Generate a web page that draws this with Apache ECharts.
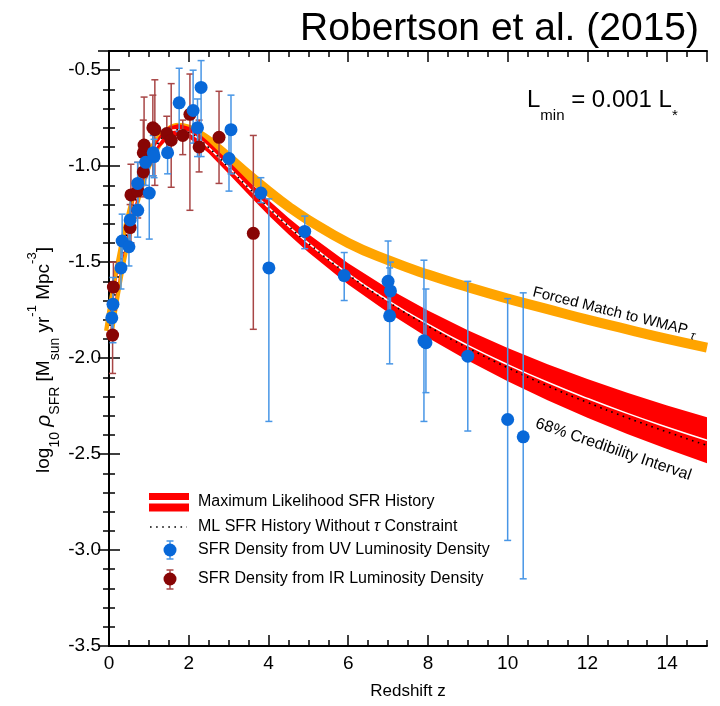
<!DOCTYPE html>
<html>
<head>
<meta charset="utf-8">
<title>Robertson et al. (2015)</title>
<script src="https://cdn.jsdelivr.net/npm/echarts@6/dist/echarts.min.js"></script>
<style>
  html, body { margin: 0; padding: 0; background: #fff; }
  #chart { width: 720px; height: 706px; }
</style>
</head>
<body>
<div id="chart"></div>
<script>
// redshift grid the model curves were read at
const modelZ = [0, 0.25, 0.5, 0.75, 1, 1.25, 1.5, 1.75, 2, 2.25, 2.5, 3, 3.5, 4, 4.5, 5, 6, 7, 8, 9, 10, 11, 12, 13, 14, 15];

// 68% credibility band (upper / lower edge) and the max likelihood line
const bandUpper = [-1.833, -1.522, -1.276, -1.084, -0.940, -0.845, -0.794, -0.780, -0.795, -0.828, -0.873, -0.973, -1.077, -1.176, -1.269, -1.354, -1.506, -1.637, -1.752, -1.855, -1.947, -2.032, -2.109, -2.181, -2.247, -2.308];
const bandLower = [-1.893, -1.582, -1.336, -1.144, -1.000, -0.905, -0.854, -0.840, -0.855, -0.888, -0.933, -1.039, -1.149, -1.256, -1.355, -1.448, -1.616, -1.763, -1.894, -2.013, -2.121, -2.220, -2.311, -2.395, -2.473, -2.548];
const mlCurve = [-1.863, -1.552, -1.306, -1.114, -0.970, -0.875, -0.824, -0.810, -0.825, -0.858, -0.903, -1.006, -1.113, -1.216, -1.312, -1.401, -1.561, -1.700, -1.823, -1.934, -2.034, -2.126, -2.210, -2.288, -2.360, -2.428];
// ML history without the tau constraint (dotted)
const noTauCurve = [-1.863, -1.552, -1.306, -1.114, -0.970, -0.875, -0.824, -0.810, -0.825, -0.858, -0.903, -1.006, -1.113, -1.216, -1.312, -1.402, -1.565, -1.707, -1.833, -1.947, -2.050, -2.145, -2.231, -2.311, -2.385, -2.455];
// forced match to WMAP tau (orange)
const wmapCurve = [-1.860, -1.550, -1.300, -1.110, -0.965, -0.870, -0.820, -0.800, -0.810, -0.835, -0.870, -0.955, -1.045, -1.130, -1.210, -1.280, -1.400, -1.490, -1.565, -1.630, -1.690, -1.745, -1.800, -1.850, -1.900, -1.945];

// SFR density from UV luminosity density
const uvZ   = [0.07, 0.10, 0.30, 0.33, 0.50, 0.53, 0.72, 0.72, 0.92, 1.01, 1.11, 1.13, 1.47, 1.76, 2.11, 2.22, 2.31, 3.01, 3.06, 3.81, 4.01, 4.91, 5.90, 7.00, 7.04, 7.06, 7.90, 7.95, 9.00, 10.00, 10.39];
const uvRho = [-1.79, -1.72, -1.53, -1.39, -1.42, -1.28, -1.23, -1.09, -0.98, -1.14, -0.93, -0.95, -0.93, -0.67, -0.71, -0.80, -0.59, -0.96, -0.81, -1.14, -1.53, -1.34, -1.57, -1.60, -1.78, -1.65, -1.91, -1.92, -1.99, -2.32, -2.41];
const uvLo  = [-1.86, -1.92, -1.64, -1.53, -1.52, -1.42, -1.37, -1.20, -1.10, -1.38, -1.05, -1.06, -1.04, -0.82, -0.88, -0.95, -0.95, -1.13, -1.04, -1.19, -2.33, -1.43, -1.70, -1.80, -2.03, -1.80, -2.33, -2.18, -2.38, -2.95, -3.15];
const uvHi  = [-1.70, -1.58, -1.40, -1.25, -1.30, -1.15, -1.10, -0.98, -0.87, -0.95, -0.84, -0.86, -0.83, -0.49, -0.50, -0.65, -0.45, -0.80, -0.63, -1.06, -1.17, -1.26, -1.45, -1.39, -1.53, -1.50, -1.49, -1.64, -1.60, -1.69, -1.66];

// SFR density from IR luminosity density
const irZ   = [0.09, 0.11, 0.53, 0.55, 0.72, 0.86, 0.86, 0.88, 1.10, 1.15, 1.45, 1.56, 1.85, 2.03, 2.26, 2.76, 3.62];
const irRho = [-1.88, -1.63, -1.32, -1.15, -1.13, -1.03, -0.93, -0.89, -0.80, -0.81, -0.83, -0.865, -0.84, -0.73, -0.90, -0.85, -1.35];
const irLo  = [-2.08, -1.75, -1.42, -1.40, -1.27, -1.16, -1.10, -1.06, -1.05, -1.10, -0.93, -1.11, -0.94, -1.23, -1.03, -1.09, -1.85];
const irHi  = [-1.70, -1.50, -1.20, -0.99, -0.98, -0.90, -0.76, -0.64, -0.63, -0.55, -0.74, -0.57, -0.76, -0.52, -0.76, -0.61, -0.84];

const FONT = '"Liberation Sans", Arial, Helvetica, sans-serif';
const BLUE = '#0868d8';
const BLUE_BAR = '#4896e6';
const DARKRED = '#880505';
const DARKRED_BAR = '#a84646';

const pairs = (xs, ys) => xs.map((x, i) => [x, ys[i]]);
const bars = (xs, ys, lo, hi) => xs.map((x, i) => [x, ys[i], lo[i], hi[i]]);

// error bar with small caps
function errorBar(color) {
  return function (params, api) {
    const x = api.value(0);
    const top = api.coord([x, api.value(3)]);
    const bot = api.coord([x, api.value(2)]);
    const cap = 3.5;
    const style = { stroke: color, lineWidth: 1.5 };
    return {
      type: 'group',
      children: [
        { type: 'line', shape: { x1: top[0], y1: top[1], x2: bot[0], y2: bot[1] }, style: style },
        { type: 'line', shape: { x1: top[0] - cap, y1: top[1], x2: top[0] + cap, y2: top[1] }, style: style },
        { type: 'line', shape: { x1: bot[0] - cap, y1: bot[1], x2: bot[0] + cap, y2: bot[1] }, style: style }
      ]
    };
  };
}

// credibility band as one polygon: upper edge forward, lower edge back
function bandPolygon(params, api) {
  if (params.dataIndex !== 0) return null;
  const pts = [];
  for (let i = 0; i < modelZ.length; i++) pts.push(api.coord([modelZ[i], bandUpper[i]]));
  for (let i = modelZ.length - 1; i >= 0; i--) pts.push(api.coord([modelZ[i], bandLower[i]]));
  return { type: 'polygon', shape: { points: pts }, style: { fill: '#ff0000' } };
}

const frameLine = { show: true, lineStyle: { color: '#000', width: 2 } };
const majorTick = { show: true, inside: true, length: 11, lineStyle: { color: '#000', width: 1.5 } };
const minorTickAx = { show: true, inside: true, length: 6, lineStyle: { color: '#000', width: 1.5 } };

function xAx(position, interval, tick, withLabels) {
  return {
    type: 'value', min: 0, max: 15, interval: interval, position: position,
    axisLine: withLabels !== null ? frameLine : { show: false },
    axisTick: tick,
    axisLabel: withLabels ? { show: true, fontSize: 19, color: '#000', fontFamily: FONT, margin: 8, showMaxLabel: false } : { show: false },
    splitLine: { show: false }
  };
}
function yAx(position, interval, tick, withLabels) {
  return {
    type: 'value', min: -3.5, max: -0.4, interval: interval, position: position,
    axisLine: withLabels !== null ? frameLine : { show: false },
    axisTick: tick,
    axisLabel: withLabels ? {
      show: true, fontSize: 19, color: '#000', fontFamily: FONT, margin: 8, showMaxLabel: false,
      formatter: v => v.toFixed(1)
    } : { show: false },
    splitLine: { show: false }
  };
}

const chart = echarts.init(document.getElementById('chart'), null, { renderer: 'canvas' });

const xBottom = xAx('bottom', 2, majorTick, true);
xBottom.name = 'Redshift z';
xBottom.nameLocation = 'middle';
xBottom.nameGap = 37;
xBottom.nameTextStyle = { fontSize: 17, color: '#000', fontFamily: FONT };

const option = {
  backgroundColor: '#fff',
  animation: false,
  title: {
    text: 'Robertson et al. (2015)',
    right: 16, top: 5,
    textStyle: { fontSize: 39, fontWeight: 'normal', color: '#000', fontFamily: FONT }
  },
  grid: { left: 109, right: 13, top: 51, bottom: 60, containLabel: false },
  xAxis: [
    xBottom,
    xAx('bottom', 0.5, minorTickAx, null),
    xAx('top', 2, majorTick, false),
    xAx('top', 0.5, minorTickAx, null)
  ],
  yAxis: [
    yAx('left', 0.5, majorTick, true),
    yAx('left', 0.1, minorTickAx, null),
    yAx('right', 0.5, majorTick, false),
    yAx('right', 0.1, minorTickAx, null)
  ],
  series: [
    {
      name: 'WMAP', type: 'line', smooth: true, symbol: 'none', z: 1,
      data: pairs(modelZ, wmapCurve),
      lineStyle: { color: '#ffa400', width: 10 }
    },
    {
      name: 'band', type: 'custom', z: 2, clip: true,
      renderItem: bandPolygon,
      encode: { x: 0, y: 1 },
      data: pairs(modelZ, mlCurve)
    },
    {
      name: 'ML', type: 'line', smooth: true, symbol: 'none', z: 3,
      data: pairs(modelZ, mlCurve),
      lineStyle: { color: '#fff', width: 1.5 }
    },
    {
      name: 'noTau', type: 'line', smooth: true, symbol: 'none', z: 3,
      data: pairs(modelZ, noTauCurve),
      lineStyle: { color: '#000', width: 1.6, type: [1.6, 4.5] }
    },
    {
      name: 'irBars', type: 'custom', z: 4,
      renderItem: errorBar(DARKRED_BAR),
      encode: { x: 0, y: 1 },
      data: bars(irZ, irRho, irLo, irHi)
    },
    {
      name: 'uvBars', type: 'custom', z: 4,
      renderItem: errorBar(BLUE_BAR),
      encode: { x: 0, y: 1 },
      data: bars(uvZ, uvRho, uvLo, uvHi)
    },
    {
      name: 'IR', type: 'scatter', z: 5, symbolSize: 13,
      itemStyle: { color: DARKRED, opacity: 1 },
      data: pairs(irZ, irRho)
    },
    {
      name: 'UV', type: 'scatter', z: 5, symbolSize: 13,
      itemStyle: { color: BLUE, opacity: 1 },
      data: pairs(uvZ, uvRho)
    }
  ],
  graphic: [
    // y axis title
    {
      type: 'text', x: 44, y: 360, rotation: Math.PI / 2, z: 10,
      style: {
        text: '{n|log}{s|10}{n| }{g|ρ}{s|SFR}{n| [M}{s|sun}{n| yr}{p|-1}{n| Mpc}{p|-3}{n|]}',
        align: 'center', verticalAlign: 'middle', fill: '#000',
        rich: {
          n: { fontSize: 19, fontFamily: FONT, lineHeight: 36, verticalAlign: 'middle', fill: '#000' },
          g: { fontSize: 21, fontFamily: FONT, fontStyle: 'italic', lineHeight: 36, verticalAlign: 'middle', fill: '#000' },
          s: { fontSize: 14, fontFamily: FONT, lineHeight: 14, verticalAlign: 'bottom', fill: '#000' },
          p: { fontSize: 13, fontFamily: FONT, lineHeight: 15, verticalAlign: 'top', fill: '#000' }
        }
      }
    },
    // luminosity limit note
    {
      type: 'text', x: 527, y: 100, z: 10,
      style: {
        text: '{a|L}{s|min}{a| = 0.001 L}{s|*}',
        verticalAlign: 'middle', fill: '#000',
        rich: {
          a: { fontSize: 24, fontFamily: FONT, lineHeight: 46, verticalAlign: 'middle', fill: '#000' },
          s: { fontSize: 15, fontFamily: FONT, lineHeight: 15, verticalAlign: 'bottom', fill: '#000' }
        }
      }
    },
    // curve labels
    {
      type: 'text', x: 533, y: 292, rotation: -0.245, z: 10,
      style: {
        text: '{a|Forced Match to WMAP }{t|τ}',
        verticalAlign: 'middle', fill: '#000',
        rich: {
          a: { fontSize: 15, fontFamily: FONT, lineHeight: 20, verticalAlign: 'middle', fill: '#000' },
          t: { fontSize: 12, fontFamily: FONT, fontStyle: 'italic', lineHeight: 12, verticalAlign: 'bottom', fill: '#000' }
        }
      }
    },
    {
      type: 'text', x: 536, y: 423, rotation: -0.33, z: 10,
      style: { text: '68% Credibility Interval', verticalAlign: 'middle', fill: '#000', font: '16px ' + FONT }
    },
    // legend
    { type: 'rect', z: 10, shape: { x: 149, y: 493, width: 40, height: 7 }, style: { fill: '#ff0000' } },
    { type: 'rect', z: 10, shape: { x: 149, y: 503.5, width: 40, height: 8 }, style: { fill: '#ff0000' } },
    { type: 'text', z: 10, x: 198, y: 502, style: { text: 'Maximum Likelihood SFR History', verticalAlign: 'middle', fill: '#000', font: '16px ' + FONT } },
    { type: 'line', z: 10, shape: { x1: 150, y1: 527, x2: 187, y2: 527 }, style: { stroke: '#000', lineWidth: 1.6, lineDash: [1.6, 4.5] } },
    {
      type: 'text', z: 10, x: 198, y: 527,
      style: {
        text: '{a|ML SFR History Without }{t|τ}{a| Constraint}', verticalAlign: 'middle', fill: '#000',
        rich: {
          a: { fontSize: 16, fontFamily: FONT, fill: '#000' },
          t: { fontSize: 16, fontFamily: FONT, fontStyle: 'italic', fill: '#000' }
        }
      }
    },
    { type: 'line', z: 10, shape: { x1: 170, y1: 541, x2: 170, y2: 559 }, style: { stroke: BLUE_BAR, lineWidth: 1.5 } },
    { type: 'line', z: 10, shape: { x1: 166.5, y1: 541, x2: 173.5, y2: 541 }, style: { stroke: BLUE_BAR, lineWidth: 1.5 } },
    { type: 'line', z: 10, shape: { x1: 166.5, y1: 559, x2: 173.5, y2: 559 }, style: { stroke: BLUE_BAR, lineWidth: 1.5 } },
    { type: 'circle', z: 11, shape: { cx: 170, cy: 550, r: 6.5 }, style: { fill: BLUE } },
    { type: 'text', z: 10, x: 198, y: 550, style: { text: 'SFR Density from UV Luminosity Density', verticalAlign: 'middle', fill: '#000', font: '16px ' + FONT } },
    { type: 'line', z: 10, shape: { x1: 170, y1: 570, x2: 170, y2: 589 }, style: { stroke: DARKRED_BAR, lineWidth: 1.5 } },
    { type: 'line', z: 10, shape: { x1: 166.5, y1: 570, x2: 173.5, y2: 570 }, style: { stroke: DARKRED_BAR, lineWidth: 1.5 } },
    { type: 'line', z: 10, shape: { x1: 166.5, y1: 589, x2: 173.5, y2: 589 }, style: { stroke: DARKRED_BAR, lineWidth: 1.5 } },
    { type: 'circle', z: 11, shape: { cx: 170, cy: 579, r: 6.5 }, style: { fill: DARKRED } },
    { type: 'text', z: 10, x: 198, y: 579, style: { text: 'SFR Density from IR Luminosity Density', verticalAlign: 'middle', fill: '#000', font: '16px ' + FONT } }
  ]
};

chart.setOption(option);
</script>
</body>
</html>
